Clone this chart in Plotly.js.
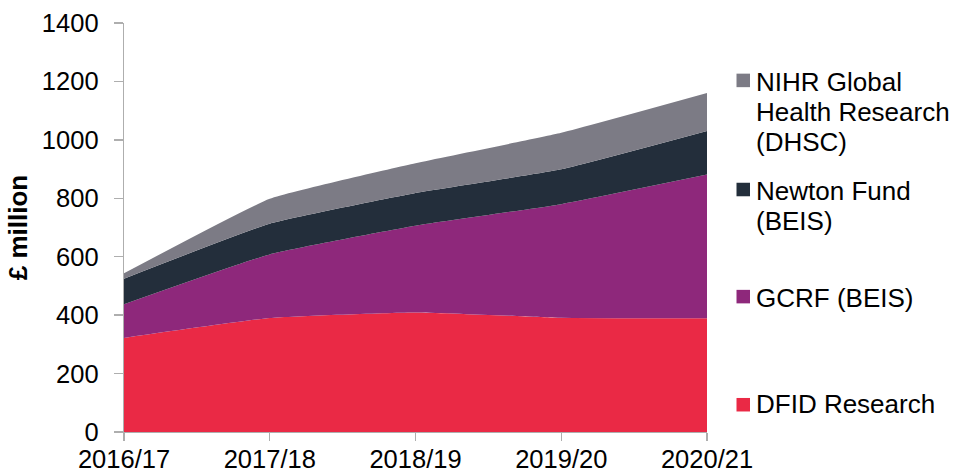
<!DOCTYPE html>
<html>
<head>
<meta charset="utf-8">
<script src="https://cdn.plot.ly/plotly-3.0.1.min.js"></script>
<style>
html,body{margin:0;padding:0;background:#fff;}
#chart{width:955px;height:475px;}
</style>
</head>
<body>
<div id="chart"></div>
<script>
// ---- data ----
const years = ["2016/17", "2017/18", "2018/19", "2019/20", "2020/21"];
const dfidResearch = [322, 390, 409, 391, 389];
const gcrf = [115, 218, 297, 389, 492];
const newtonFund = [88, 105, 112, 119, 149];
const nihr = [18, 85, 102, 125, 130];
const yTicks = [0, 200, 400, 600, 800, 1000, 1200, 1400];

const seriesNames = ["DFID Research", "GCRF (BEIS)", "Newton Fund (BEIS)", "NIHR Global Health Research (DHSC)"];
const seriesValues = [dfidResearch, gcrf, newtonFund, nihr];
const seriesColors = ["#EA2945", "#8E287B", "#232E3B", "#7C7B85"];

// legend text lines (as in reference), top to bottom
const legendLines = [
  ["NIHR Global", "Health Research", "(DHSC)"],
  ["Newton Fund", "(BEIS)"],
  ["GCRF (BEIS)"],
  ["DFID Research"]
];
const legendColors = [seriesColors[3], seriesColors[2], seriesColors[1], seriesColors[0]];

const traces = seriesValues.map((vals, i) => ({
  type: "scatter",
  mode: "lines",
  name: seriesNames[i],
  x: years,
  y: vals,
  stackgroup: "one",
  line: {width: 0, shape: "spline", smoothing: 0.4, color: seriesColors[i]},
  fillcolor: seriesColors[i],
  hoverinfo: "x+y+name"
}));

// layout geometry (pixels)
const W = 955, H = 475;
const L = 124, R = 707, T = 23.4, B = 432;
const pw = R - L, ph = B - T;
const px = v => (v - L) / pw;
const py = v => (B - v) / ph;

// legend item positions (pixel): square top and line centres
const legendSquareTop = [74, 183, 290, 398];
const legendLineY = [[82, 112, 142], [191, 221], [298], [404]];
const sq = 13.5;
const sqX = 736.5;
const textX = 754;

const shapes = [];
const annotations = [];
legendLines.forEach((lines, i) => {
  shapes.push({
    type: "rect", xref: "paper", yref: "paper",
    x0: px(sqX), x1: px(sqX + sq),
    y0: py(legendSquareTop[i] + sq), y1: py(legendSquareTop[i]),
    fillcolor: legendColors[i], line: {width: 0}
  });
  lines.forEach((t, j) => {
    annotations.push({
      xref: "paper", yref: "paper",
      x: px(textX), y: py(legendLineY[i][j]),
      xanchor: "left", yanchor: "middle",
      text: t, showarrow: false,
      font: {family: "Liberation Sans, Arial, sans-serif", size: 26, color: "#000"}
    });
  });
});

const layout = {
  width: W, height: H,
  margin: {l: L, r: W - R, t: T, b: H - B, pad: 0},
  paper_bgcolor: "#fff",
  plot_bgcolor: "#fff",
  showlegend: false,
  font: {family: "Liberation Sans, Arial, sans-serif", color: "#000"},
  xaxis: {
    type: "category",
    range: [0, years.length - 1],
    showgrid: false,
    zeroline: false,
    showline: true,
    linecolor: "#AEAEAE",
    linewidth: 1.3,
    ticks: "outside",
    ticklen: 8,
    tickcolor: "#AEAEAE",
    tickwidth: 1.3,
    tickfont: {size: 25.5, color: "#000"},
    ticklabelstandoff: -4,
    automargin: false,
    fixedrange: true
  },
  yaxis: {
    range: [0, 1400],
    tickvals: yTicks,
    ticktext: yTicks.map(String),
    showgrid: false,
    zeroline: false,
    showline: true,
    linecolor: "#AEAEAE",
    linewidth: 1.3,
    ticks: "outside",
    ticklen: 9,
    tickcolor: "#AEAEAE",
    tickwidth: 1.3,
    tickfont: {size: 25.5, color: "#000"},
    ticklabelstandoff: 10,
    title: {text: "<b>£ million</b>", font: {size: 26, color: "#000"}, standoff: 6},
    automargin: false,
    fixedrange: true
  },
  shapes: shapes,
  annotations: annotations
};

Plotly.newPlot("chart", traces, layout, {displayModeBar: false, staticPlot: true});
</script>
</body>
</html>
